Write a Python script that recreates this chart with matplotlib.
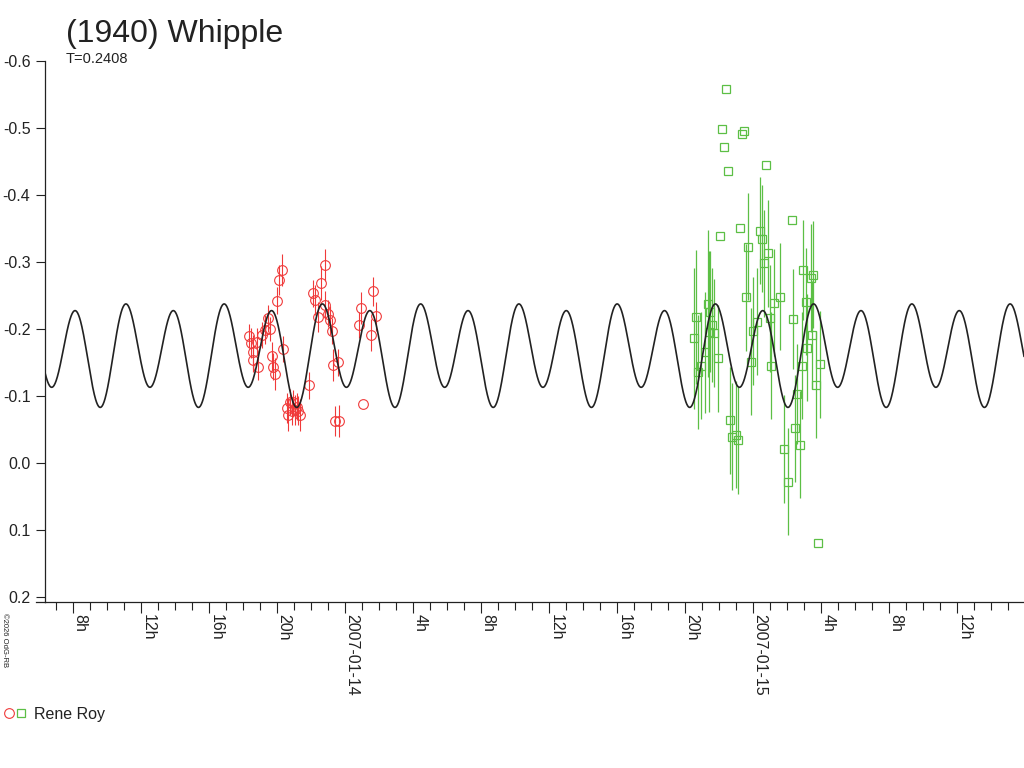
import numpy as np
import matplotlib
matplotlib.use('Agg')
import matplotlib.pyplot as plt
from matplotlib.lines import Line2D
from matplotlib.ticker import MultipleLocator, FuncFormatter
from datetime import datetime, timedelta

plt.rcParams['font.family'] = ['Liberation Sans', 'DejaVu Sans']

#
# dados: horas desde 2007-01-13 00:00 UT, magnitude relativa
#
titulo = "(1940) Whipple"
periodo_txt = "T=0.2408"
observador = "Rene Roy"

# modelo de Fourier (periodo em horas)
periodo_h = 0.2408 * 24
epoca_h = 11.08
media = -0.165
a1, b1 = -0.005, -0.015
a2 = -0.067

red_hour = [20.29, 20.15, 20.04, 19.51, 19.61, 19.31, 19.12, 18.39, 18.49, 18.82,
            18.59, 18.62, 18.92, 19.71, 19.80, 19.90, 20.39, 20.59, 20.78, 20.98,
            21.08, 20.68, 20.88, 21.27, 21.37, 21.18, 22.84, 22.61, 22.15, 22.25,
            22.84, 22.45, 23.04, 23.14, 23.24, 23.33, 23.62, 21.92, 23.43, 23.68,
            25.68, 24.96, 25.84, 24.86, 25.55, 25.09]
red_mag = [-0.288, -0.273, -0.242, -0.216, -0.200, -0.199, -0.191, -0.189, -0.179, -0.181,
           -0.166, -0.154, -0.144, -0.159, -0.144, -0.133, -0.170, -0.082, -0.091, -0.091,
           -0.079, -0.072, -0.077, -0.078, -0.072, -0.084, -0.296, -0.269, -0.253, -0.243,
           -0.236, -0.218, -0.223, -0.213, -0.197, -0.146, -0.150, -0.116, -0.063, -0.063,
           -0.256, -0.231, -0.219, -0.206, -0.191, -0.088]
red_err = [0.024, 0.022, 0.020, 0.020, 0.018, 0.022, 0.020, 0.018, 0.022, 0.020,
           0.025, 0.018, 0.020, 0.022, 0.020, 0.024, 0.020, 0.022, 0.020, 0.018,
           0.022, 0.025, 0.020, 0.022, 0.024, 0.020, 0.024, 0.025, 0.020, 0.022,
           0.020, 0.022, 0.020, 0.022, 0.020, 0.024, 0.020, 0.020, 0.022, 0.024,
           0.022, 0.024, 0.022, 0.020, 0.024, 0.000]

green_hour = [46.43, 46.18, 47.47, 47.37, 46.29, 46.53, 48.76, 51.82, 47.25, 46.06,
              50.31, 47.71, 48.43, 48.53, 48.66, 48.92, 47.61, 44.67, 44.55, 45.39,
              45.49, 45.59, 45.72, 45.45, 45.18, 45.94, 44.94, 44.80, 47.90, 48.00,
              46.66, 46.76, 47.02, 47.12, 50.98, 51.56, 51.41, 49.61, 49.25, 51.14,
              49.02, 50.39, 48.27, 51.51, 51.21, 49.08, 50.88, 51.96, 51.72, 50.62,
              50.49, 50.78, 49.84, 50.06]
green_mag = [-0.558, -0.499, -0.496, -0.491, -0.472, -0.436, -0.445, 0.119, -0.350, -0.339,
             -0.362, -0.323, -0.347, -0.335, -0.298, -0.313, -0.247, -0.218, -0.186, -0.238,
             -0.226, -0.206, -0.194, -0.196, -0.165, -0.156, -0.145, -0.136, -0.151, -0.197,
             -0.064, -0.039, -0.042, -0.034, -0.288, -0.281, -0.276, -0.248, -0.239, -0.241,
             -0.216, -0.215, -0.211, -0.191, -0.172, -0.145, -0.145, -0.147, -0.117, -0.103,
             -0.052, -0.027, -0.021, 0.028]
green_err = [0.0, 0.0, 0.0, 0.0, 0.0, 0.0, 0.0, 0.0, 0.0, 0.0,
             0.0, 0.080, 0.080, 0.080, 0.080, 0.080, 0.080, 0.100, 0.105, 0.110,
             0.090, 0.085, 0.080, 0.120, 0.090, 0.080, 0.080, 0.085, 0.080, 0.080,
             0.080, 0.080, 0.080, 0.080, 0.075, 0.080, 0.080, 0.080, 0.080, 0.080,
             0.080, 0.075, 0.080, 0.080, 0.080, 0.080, 0.080, 0.080, 0.080, 0.075,
             0.080, 0.080, 0.080, 0.080]

x_ini, x_fim = 6.37, 63.96
y_top, y_bot = -0.6, 0.2075

base = datetime(2007, 1, 13)
vermelho = '#f03a3a'
verde = '#5cbf45'
escuro = '#222222'


def rotulo_x(h, pos):
    hh = int(round(h))
    if hh % 24 == 0:
        return (base + timedelta(hours=hh)).strftime('%Y-%m-%d')
    return f'{hh % 24}h'


fig = plt.figure(figsize=(10.24, 7.68), dpi=100)
W, H = 1024.0, 768.0
ax = fig.add_axes([45 / W, 1 - 602 / H, (1024 - 45) / W, (602 - 61) / H])

# curva modelo
t = np.linspace(x_ini, x_fim, 3000)
th = 2 * np.pi * (t - epoca_h) / periodo_h
modelo = media + a1 * np.cos(th) + b1 * np.sin(th) + a2 * np.cos(2 * th)
ax.plot(t, modelo, color=escuro, lw=1.2, zorder=3)

ax.errorbar(red_hour, red_mag, yerr=red_err, fmt='o', ms=7, mfc='none', mec=vermelho,
            mew=0.8, ecolor=vermelho, elinewidth=0.8, capsize=0, zorder=2)
ax.errorbar(green_hour, green_mag, yerr=green_err, fmt='s', ms=5.5, mfc='none', mec=verde,
            mew=0.9, ecolor=verde, elinewidth=0.9, capsize=0, zorder=2)

ax.set_xlim(x_ini, x_fim)
ax.set_ylim(y_bot, y_top)

ax.spines['top'].set_visible(False)
ax.spines['right'].set_visible(False)
for s in ('left', 'bottom'):
    ax.spines[s].set_color(escuro)
    ax.spines[s].set_linewidth(0.9)

ax.set_yticks(np.arange(-0.6, 0.21, 0.1))
ax.yaxis.set_major_formatter(FuncFormatter(lambda v, p: f'{v:.1f}' if abs(v) > 1e-9 else '0.0'))
ax.tick_params(axis='y', direction='out', length=6.5, width=0.8, color=escuro,
               labelsize=11.5, labelcolor=escuro, pad=4)

ax.xaxis.set_major_locator(MultipleLocator(4))
ax.xaxis.set_minor_locator(MultipleLocator(1))
ax.xaxis.set_major_formatter(FuncFormatter(rotulo_x))
ax.tick_params(axis='x', which='major', direction='out', length=8, width=0.8, color=escuro,
               labelsize=11.5, labelcolor=escuro, pad=1)
ax.tick_params(axis='x', which='minor', direction='out', length=5.5, width=0.8, color=escuro)
for lab in ax.get_xticklabels():
    lab.set_rotation(-90)
    lab.set_ha('left')
    lab.set_va('top')

# prolongamento da linha do eixo x para a esquerda
ax.add_line(Line2D([-9 / 979, 0], [0, 0], transform=ax.transAxes, color=escuro,
                   lw=0.9, clip_on=False))

# textos
fig.text(66 / W, 1 - 42 / H, titulo, fontsize=23, color=escuro, va='baseline')
fig.text(66 / W, 1 - 63 / H, periodo_txt, fontsize=10.5, color=escuro, va='baseline')
fig.text(1 / W, 1 - 613 / H, '©2026 OdG-RB', fontsize=5.5, color=escuro,
         rotation=-90, ha='left', va='top')

# legenda
fig.add_artist(Line2D([9 / W], [1 - 713 / H], marker='o', ms=7, mfc='none', mec=vermelho,
                      mew=0.8, transform=fig.transFigure))
fig.add_artist(Line2D([21 / W], [1 - 713 / H], marker='s', ms=5.5, mfc='none', mec=verde,
                      mew=0.9, transform=fig.transFigure))
fig.text(34 / W, 1 - 719 / H, observador, fontsize=11.5, color=escuro, va='baseline')

fig.savefig('out.png', dpi=100)
